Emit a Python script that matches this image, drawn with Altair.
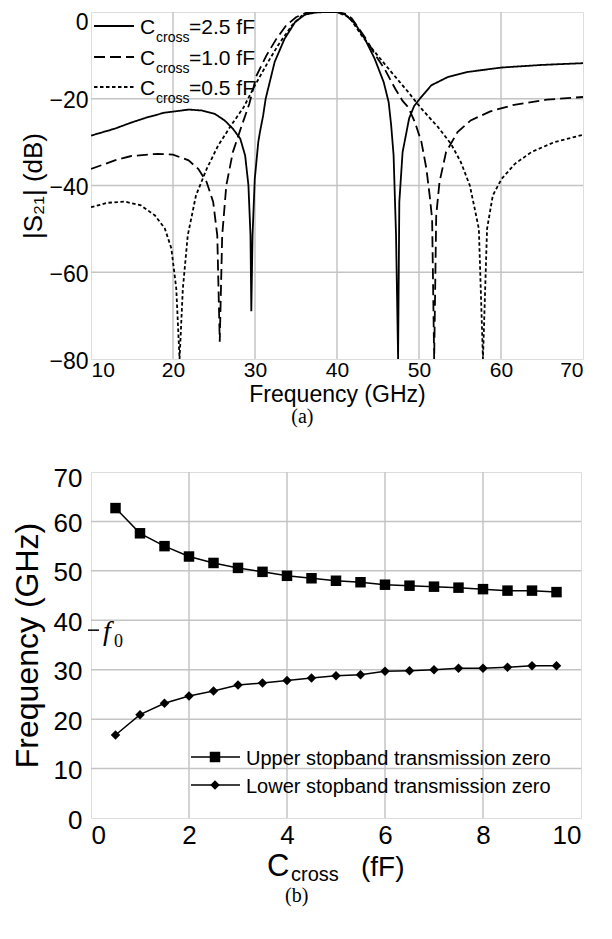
import altair as alt
import pandas as pd

# ---------------- (a) |S21| curves ----------------
f_25 = [10.0, 12.9, 14.9, 17.0, 19.0, 21.9, 23.5, 25.1, 26.3, 27.3, 28.2, 28.8, 29.2, 29.45, 29.55, 29.7,
        29.97, 30.4, 30.6, 31.0, 31.3, 32.4, 33.6, 34.9, 36.1, 37.3, 38.5, 40.0, 41.0, 42.2, 43.4, 44.6,
        45.7, 46.3, 46.6, 46.9, 47.2, 47.45, 47.6, 48.0, 48.8, 49.4, 50.1, 51.5, 53.5, 56.0, 60.1, 65.0, 70.0]
db_25 = [-28.5, -26.9, -25.5, -24.2, -23.2, -22.5, -22.7, -23.5, -25.0, -26.9, -29.2, -33.1, -40.0, -51.5, -69.0, -51.5,
         -38.5, -30.0, -27.7, -23.8, -20.0, -11.5, -6.2, -2.3, -0.6, -0.15, 0.0, 0.0, -0.6, -2.7, -6.2, -10.8,
         -16.2, -20.8, -26.0, -33.0, -51.5, -80.0, -43.8, -32.3, -24.5, -21.7, -20.0, -16.9, -15.0, -13.8, -12.8, -12.2, -11.8]

f_10 = [10.0, 12.9, 14.9, 18.1, 20.0, 21.9, 23.1, 24.1, 24.9, 25.4, 25.7, 26.0, 26.5, 27.3, 28.4, 29.3,
        30.2, 31.4, 32.6, 33.8, 35.0, 36.2, 37.5, 40.0, 41.0, 41.8, 43.4, 44.6, 45.8, 47.1, 48.0, 48.7,
        49.5, 50.3, 50.9, 51.3, 51.6, 51.85, 52.1, 52.5, 53.3, 54.7, 56.3, 58.7, 61.6, 65.6, 70.0]
db_10 = [-36.2, -34.2, -33.2, -32.7, -32.9, -34.2, -36.2, -39.2, -43.8, -51.5, -76.0, -51.5, -40.0, -32.3, -26.1, -21.2,
         -14.6, -10.0, -6.2, -3.1, -1.2, -0.2, 0.0, 0.0, -0.4, -1.5, -5.8, -9.7, -13.1, -17.7, -20.5, -22.0,
         -25.4, -30.0, -36.1, -42.3, -47.7, -80.0, -46.9, -39.2, -32.3, -27.7, -25.0, -22.9, -21.4, -20.2, -19.6]

f_05 = [10.0, 12.0, 14.1, 16.1, 17.8, 19.0, 19.8, 20.4, 20.8, 21.2, 21.8, 22.8, 24.1, 25.5, 27.1, 28.6,
        30.0, 31.6, 32.8, 34.5, 35.7, 37.0, 40.0, 41.5, 43.0, 44.6, 46.6, 48.7, 50.3, 52.3, 53.9, 55.1,
        56.2, 56.8, 57.3, 57.8, 58.3, 59.0, 60.06, 61.7, 63.7, 66.5, 70.0]
db_05 = [-45.0, -44.0, -43.7, -44.6, -46.9, -49.9, -54.5, -63.8, -80.0, -63.8, -51.5, -42.3, -36.2, -30.8, -26.1, -22.0,
         -16.9, -11.5, -7.7, -3.1, -0.9, 0.0, 0.0, -1.2, -5.4, -9.2, -13.8, -18.5, -22.3, -26.5, -30.4, -34.6,
         -40.0, -45.4, -50.0, -80.0, -50.0, -42.3, -38.5, -35.0, -32.3, -30.0, -28.3]

series_names = ["2.5 fF", "1.0 fF", "0.5 fF"]
legend_values = ["=2.5 fF", "=1.0 fF", "=0.5 fF"]
top_x_ticks = [10, 20, 30, 40, 50, 60, 70]
top_y_ticks = [-80, -60, -40, -20, 0]
top_x_grid = [20, 30, 40, 50, 60]
top_y_grid = [-60, -40, -20]

# ---------------- (b) transmission zeros ----------------
c_cross = [0.5, 1.0, 1.5, 2.0, 2.5, 3.0, 3.5, 4.0, 4.5, 5.0, 5.5, 6.0, 6.5, 7.0, 7.5, 8.0, 8.5, 9.0, 9.5]
upper_zero = [62.7, 57.6, 55.0, 52.9, 51.6, 50.6, 49.8, 49.0, 48.5, 48.0, 47.7, 47.2, 47.0, 46.8, 46.6, 46.3, 46.0, 46.0, 45.7]
lower_zero = [16.8, 20.9, 23.2, 24.7, 25.7, 26.9, 27.3, 27.8, 28.3, 28.8, 29.0, 29.7, 29.8, 30.0, 30.3, 30.3, 30.5, 30.8, 30.8]
bot_x_ticks = [0, 2, 4, 6, 8, 10]
bot_y_ticks = [0, 10, 20, 30, 40, 50, 60, 70]
bot_x_grid = [2, 4, 6, 8]
bot_y_grid = [10, 20, 30, 40, 50, 60]
f0_value = [38]
legend_b = ["Upper stopband transmission zero", "Lower stopband transmission zero"]

SANS = "Liberation Sans"
SERIF = "Liberation Serif"
GRID = "#c4c4c4"

df_top = pd.concat([
    pd.DataFrame({"f": f_25, "db": db_25, "series": series_names[0]}),
    pd.DataFrame({"f": f_10, "db": db_10, "series": series_names[1]}),
    pd.DataFrame({"f": f_05, "db": db_05, "series": series_names[2]}),
])
one = pd.DataFrame({"k": [0]})
dashes = [[1, 0], [11, 5], [3.5, 2.5]]

xs_top = alt.Scale(domain=[10, 70], nice=False, zero=False)
ys_top = alt.Scale(domain=[-80, 0], nice=False, zero=False)

top_axis_x = alt.Axis(values=top_x_ticks, title="Frequency (GHz)", grid=False, ticks=False, tickSize=0, domain=False,
                      labelFontSize=21, titleFontSize=23, labelPadding=0, titlePadding=3,
                      labelFont=SANS, titleFont=SANS, titleFontWeight="normal", labelColor="black", titleColor="black")
top_axis_y = alt.Axis(values=top_y_ticks, title="|S₂₁| (dB)", grid=False, ticks=False, tickSize=0, domain=False,
                      labelFontSize=23, titleFontSize=26, labelPadding=3, titlePadding=2,
                      labelOffset={"condition": {"test": "datum.value == 0", "value": 10}, "value": 2},
                      labelFont=SANS, titleFont=SANS, titleFontWeight="normal", labelColor="black", titleColor="black")

vgrid_top = alt.Chart(pd.DataFrame({"g": top_x_grid})).mark_rule(color=GRID, strokeWidth=1.5).encode(
    x=alt.X("g:Q", scale=xs_top, axis=top_axis_x))
hgrid_top = alt.Chart(pd.DataFrame({"g": top_y_grid})).mark_rule(color=GRID, strokeWidth=1.5).encode(
    y=alt.Y("g:Q", scale=ys_top, axis=top_axis_y))

lines_top = alt.Chart(df_top).mark_line(clip=True, color="black", strokeWidth=1.8).encode(
    x=alt.X("f:Q", scale=xs_top),
    y=alt.Y("db:Q", scale=ys_top),
    strokeDash=alt.StrokeDash("series:N", scale=alt.Scale(domain=series_names, range=dashes), legend=None),
    detail="series:N",
)

row_y = [14, 45, 75]
leg_layers = []
for i in range(3):
    leg_layers.append(alt.Chart(one).mark_rule(color="black", strokeWidth=1.8, strokeDash=dashes[i]).encode(
        x=alt.value(3), x2=alt.value(43), y=alt.value(row_y[i])))
    leg_layers.append(alt.Chart(one).mark_text(align="left", baseline="alphabetic", font=SANS, fontSize=21,
                                                color="black").encode(
        x=alt.value(49), y=alt.value(row_y[i] + 8), text=alt.value("C")))
    leg_layers.append(alt.Chart(one).mark_text(align="left", baseline="alphabetic", font=SANS, fontSize=14,
                                                color="black").encode(
        x=alt.value(65), y=alt.value(row_y[i] + 16), text=alt.value("cross")))
    leg_layers.append(alt.Chart(one).mark_text(align="left", baseline="alphabetic", font=SANS, fontSize=21,
                                                color="black").encode(
        x=alt.value(98), y=alt.value(row_y[i] + 8), text=alt.value(legend_values[i])))

top = alt.layer(vgrid_top, hgrid_top, lines_top, *leg_layers).properties(
    width=492, height=347,
    title=alt.Title("(a)", orient="bottom", anchor="middle", frame="bounds", font=SERIF, fontSize=20,
                    fontWeight="normal", color="black", offset=1),
)

# ---------------- bottom chart ----------------
df_bot = pd.DataFrame({"c": c_cross, "upper": upper_zero, "lower": lower_zero})
xs_bot = alt.Scale(domain=[0, 10], nice=False, zero=False)
ys_bot = alt.Scale(domain=[0, 70], nice=False, zero=False)

bot_axis_x = alt.Axis(values=bot_x_ticks, title=None, grid=False, ticks=False, tickSize=0, domain=False,
                      labelFontSize=26, labelPadding=4, labelFont=SANS, labelColor="black")
bot_axis_y = alt.Axis(values=bot_y_ticks, title="Frequency (GHz)", grid=False, ticks=False, tickSize=0, domain=False,
                      labelFontSize=26, titleFontSize=32, labelPadding=9, titlePadding=8.5,
                      labelOffset={"condition": {"test": "datum.value == 70", "value": 6}, "value": 2},
                      labelFont=SANS, titleFont=SANS, titleFontWeight="normal", labelColor="black", titleColor="black")

vgrid_bot = alt.Chart(pd.DataFrame({"g": bot_x_grid})).mark_rule(color=GRID, strokeWidth=1.5).encode(
    x=alt.X("g:Q", scale=xs_bot, axis=bot_axis_x))
hgrid_bot = alt.Chart(pd.DataFrame({"g": bot_y_grid})).mark_rule(color=GRID, strokeWidth=1.5).encode(
    y=alt.Y("g:Q", scale=ys_bot, axis=bot_axis_y))

base_b = alt.Chart(df_bot)
up_line = base_b.mark_line(color="black", strokeWidth=1.5).encode(x=alt.X("c:Q", scale=xs_bot), y=alt.Y("upper:Q", scale=ys_bot))
up_pts = base_b.mark_point(shape="square", filled=True, size=110, color="black", opacity=1).encode(
    x=alt.X("c:Q", scale=xs_bot), y=alt.Y("upper:Q", scale=ys_bot))
lo_line = base_b.mark_line(color="black", strokeWidth=1.5).encode(x=alt.X("c:Q", scale=xs_bot), y=alt.Y("lower:Q", scale=ys_bot))
lo_pts = base_b.mark_point(shape="diamond", filled=True, size=90, color="black", opacity=1).encode(
    x=alt.X("c:Q", scale=xs_bot), y=alt.Y("lower:Q", scale=ys_bot))

f0_df = pd.DataFrame({"f0": f0_value})
f0_tick = alt.Chart(f0_df).mark_rule(color="black", strokeWidth=1.5).encode(
    y=alt.Y("f0:Q", scale=ys_bot), x=alt.value(-3), x2=alt.value(8))
f0_f = alt.Chart(f0_df).mark_text(align="left", baseline="alphabetic", font=SERIF, fontStyle="italic",
                                   fontSize=28, color="black", dy=10).encode(
    y=alt.Y("f0:Q", scale=ys_bot), x=alt.value(12), text=alt.value("f"))
f0_sub = alt.Chart(f0_df).mark_text(align="left", baseline="alphabetic", font=SERIF, fontSize=18,
                                     color="black", dy=17).encode(
    y=alt.Y("f0:Q", scale=ys_bot), x=alt.value(23), text=alt.value("0"))

leg_b_y = [285, 313]
leg_b_shapes = ["square", "diamond"]
leg_b_sizes = [110, 90]
leg_b_layers = []
for i in range(2):
    leg_b_layers.append(alt.Chart(one).mark_rule(color="black", strokeWidth=1.5).encode(
        x=alt.value(100), x2=alt.value(149), y=alt.value(leg_b_y[i])))
    leg_b_layers.append(alt.Chart(one).mark_point(shape=leg_b_shapes[i], filled=True, size=leg_b_sizes[i],
                                                   color="black", opacity=1).encode(
        x=alt.value(124), y=alt.value(leg_b_y[i])))
    leg_b_layers.append(alt.Chart(one).mark_text(align="left", baseline="alphabetic", font=SANS, fontSize=20,
                                                  color="black").encode(
        x=alt.value(155), y=alt.value(leg_b_y[i] + 8), text=alt.value(legend_b[i])))

xt_C = alt.Chart(one).mark_text(align="left", baseline="alphabetic", font=SANS, fontSize=31, color="black").encode(
    x=alt.value(176), y=alt.value(404), text=alt.value("C"))
xt_cross = alt.Chart(one).mark_text(align="left", baseline="alphabetic", font=SANS, fontSize=20, color="black").encode(
    x=alt.value(200), y=alt.value(409), text=alt.value("cross"))
xt_unit = alt.Chart(one).mark_text(align="left", baseline="alphabetic", font=SANS, fontSize=28, color="black").encode(
    x=alt.value(270), y=alt.value(404), text=alt.value("(fF)"))

bottom = alt.layer(vgrid_bot, hgrid_bot, up_line, lo_line, up_pts, lo_pts, f0_tick, f0_f, f0_sub,
                   *leg_b_layers, xt_C, xt_cross, xt_unit).properties(
    width=490, height=346,
    title=alt.Title("(b)", orient="bottom", anchor="middle", frame="bounds", font=SERIF, fontSize=20,
                    fontWeight="normal", color="black", offset=1),
)

chart = alt.concat(top, bottom, columns=1, spacing=36, align="none").properties(
    padding={"left": 3, "top": 2, "right": 5, "bottom": 0}
).configure_view(stroke="black", strokeWidth=2).configure(background="white")

chart.save("out.html", embed_options={"renderer": "svg", "actions": False})
